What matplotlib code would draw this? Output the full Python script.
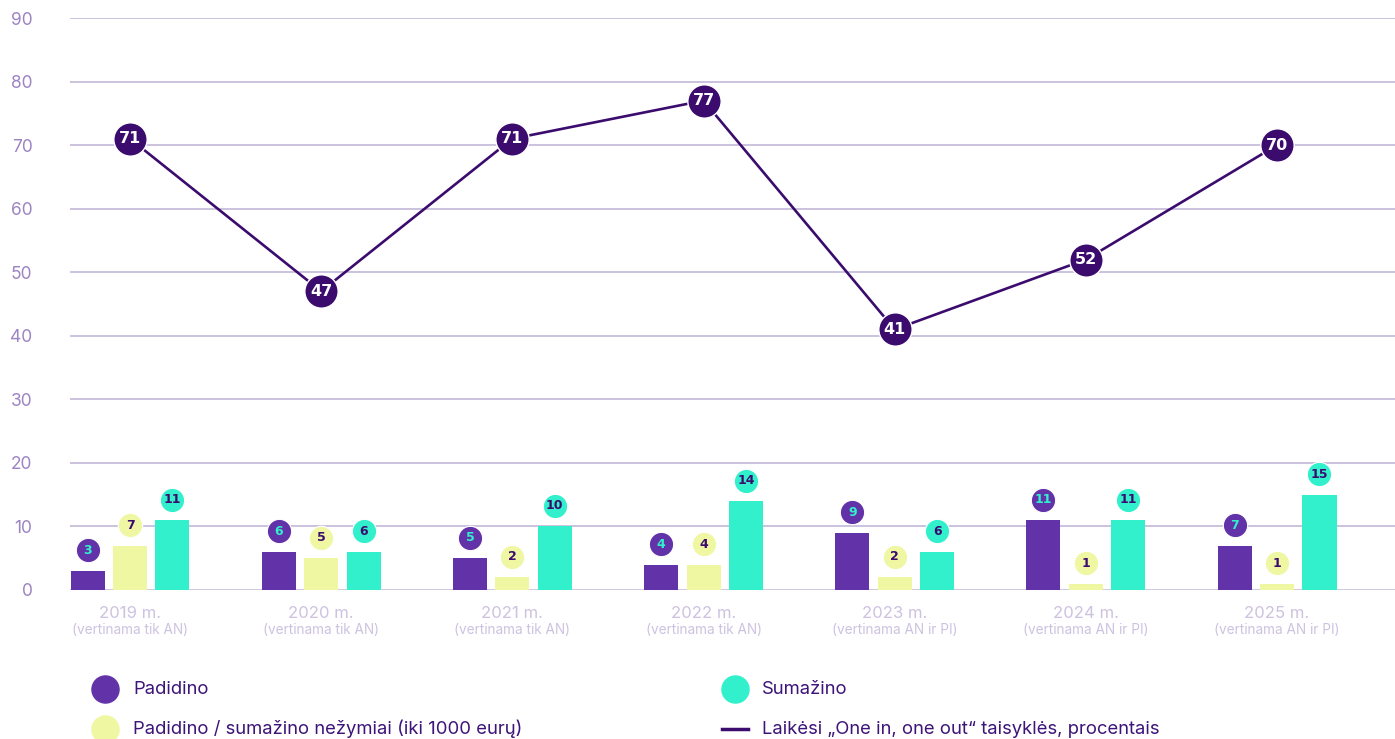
import matplotlib
matplotlib.use("Agg")
import matplotlib.pyplot as plt
import matplotlib.transforms as mtransforms
from matplotlib.lines import Line2D
import numpy as np

plt.rcParams['font.family'] = ['Inter', 'DejaVu Sans']

years = ["2019 m.", "2020 m.", "2021 m.", "2022 m.", "2023 m.", "2024 m.", "2025 m."]
subtitles = ["(vertinama tik AN)", "(vertinama tik AN)", "(vertinama tik AN)", "(vertinama tik AN)",
             "(vertinama AN ir PI)", "(vertinama AN ir PI)", "(vertinama AN ir PI)"]
padidino = [3, 6, 5, 4, 9, 11, 7]
nezymiai = [7, 5, 2, 4, 2, 1, 1]
sumazino = [11, 6, 10, 14, 6, 11, 15]
laikesi = [71, 47, 71, 77, 41, 52, 70]
yticks = [0, 10, 20, 30, 40, 50, 60, 70, 80, 90]

legend_labels = ["Padidino", "Padidino / sumažino nežymiai (iki 1000 eurų)", "Sumažino",
                 "Laikėsi „One in, one out“ taisyklės, procentais"]

C_PURPLE = "#6233a8"
C_YELLOW = "#eff7a3"
C_TEAL = "#33f0cc"
C_DARK = "#3b0c6e"
C_GRID = "#bdb3d4"
C_TICK = "#9d84c2"
C_XLAB = "#cdc2e0"
C_LEG = "#3d1478"

W, H = 1395, 739
fig = plt.figure(figsize=(W / 100, H / 100), dpi=100)
ax = fig.add_axes([70 / W, 1 - 590 / H, 1 - 70 / W, (590 - 18) / H])

x = np.arange(len(years))
bw = 0.178
off = 0.222

ax.set_xlim(-0.314, 6.617)
ax.set_ylim(0, 90)
for s in ax.spines.values():
    s.set_visible(False)
ax.set_yticks(yticks)
ax.set_yticklabels([str(v) for v in yticks], color=C_TICK, fontsize=12.5)
ax.tick_params(axis='y', length=0, pad=27)
ax.set_xticks([])
for v in yticks:
    ax.axhline(v, color=C_GRID if v > 0 else "#cbc3dd", lw=1.1 if v > 0 else 2.0, zorder=0)

ax.bar(x - off, padidino, bw, color=C_PURPLE, zorder=2)
ax.bar(x, nezymiai, bw, color=C_YELLOW, zorder=2)
ax.bar(x + off, sumazino, bw, color=C_TEAL, zorder=2)

lab_tr = mtransforms.offset_copy(ax.transData, fig=fig, y=20.5, units='dots')
for vals, dx, fc, tc in [(padidino, -off, C_PURPLE, C_TEAL),
                         (nezymiai, 0, C_YELLOW, C_DARK),
                         (sumazino, off, C_TEAL, C_DARK)]:
    for xi, v in zip(x, vals):
        ax.plot([xi + dx], [v], 'o', ms=17.5, color=fc, mec='white', mew=0.8,
                transform=lab_tr, zorder=4, clip_on=False)
        ax.text(xi + dx, v, str(v), transform=lab_tr, ha='center', va='center',
                fontsize=9, fontweight='bold', color=tc, zorder=5,
                family=['DejaVu Sans'])

ax.plot(x, laikesi, '-', color=C_DARK, lw=1.9, zorder=6)
ax.plot(x, laikesi, 'o', ms=24, color=C_DARK, mec='white', mew=1.0, zorder=7, clip_on=False)
for xi, v in zip(x, laikesi):
    ax.text(xi, v, str(v), ha='center', va='center', fontsize=11.5, fontweight='bold',
            color='white', zorder=8, family=['DejaVu Sans'])

xl_tr = mtransforms.blended_transform_factory(ax.transData, fig.transFigure)
for xi, yl, st in zip(x, years, subtitles):
    ax.text(xi, 1 - 613 / H, yl, transform=xl_tr, ha='center', va='center',
            fontsize=12, color=C_XLAB)
    ax.text(xi, 1 - 630 / H, st, transform=xl_tr, ha='center', va='center',
            fontsize=9.8, color=C_XLAB)

# legend
leg = [(105, 133, 689, 'o', C_PURPLE, legend_labels[0]),
       (105, 133, 729, 'o', C_YELLOW, legend_labels[1]),
       (735, 762, 689, 'o', C_TEAL, legend_labels[2]),
       (735, 762, 729, '-', C_DARK, legend_labels[3])]
for mx, tx, yy, mk, col, lab in leg:
    if mk == 'o':
        fig.add_artist(Line2D([mx / W], [1 - yy / H], marker='o', ms=19.5, color=col,
                              lw=0, transform=fig.transFigure))
    else:
        fig.add_artist(Line2D([(mx - 13) / W, (mx + 13) / W], [1 - yy / H, 1 - yy / H],
                              color=col, lw=2.5, transform=fig.transFigure))
    fig.text(tx / W, 1 - yy / H, lab, ha='left', va='center', fontsize=13.3, color=C_LEG)

fig.savefig("out.png", dpi=100)
